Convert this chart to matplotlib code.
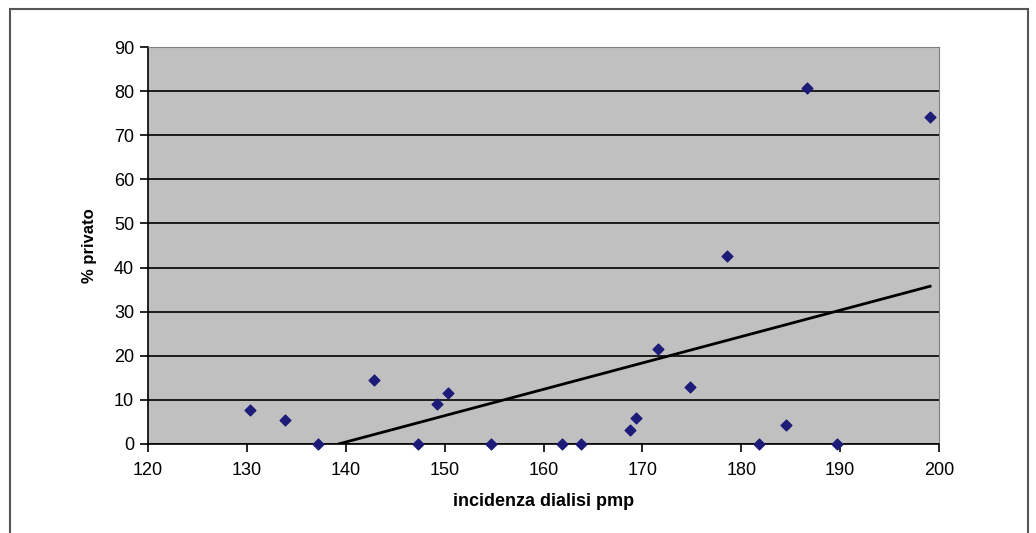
import matplotlib.pyplot as plt
from matplotlib.patches import Rectangle
import numpy as np

plt.rcParams['font.family'] = ['Liberation Sans', 'DejaVu Sans']

# incidenza dialisi pmp vs % privato
incidenza = [130.3, 133.9, 137.2, 142.9, 147.3, 149.2, 150.3, 154.7, 161.9, 163.8,
             168.7, 169.4, 171.6, 174.8, 178.6, 181.8, 184.5, 186.6, 189.7, 199.1]
privato = [7.8, 5.4, 0.0, 14.4, 0.0, 9.0, 11.6, 0.0, 0.0, 0.0,
           3.2, 5.9, 21.6, 12.9, 42.6, 0.0, 4.2, 80.8, 0.0, 74.1]
x_ticks = [120, 130, 140, 150, 160, 170, 180, 190, 200]
y_ticks = [0, 10, 20, 30, 40, 50, 60, 70, 80, 90]

fig = plt.figure(figsize=(10.36, 5.33), dpi=100)
# outer chart frame
fig.patches.append(Rectangle((10/1036, -0.02), 1018/1036, 1.02 - 9/533, transform=fig.transFigure,
                             fill=False, edgecolor='#555555', lw=1.5))
ax = fig.add_axes([148/1036, 89/533, 791/1036, 397/533])
ax.set_facecolor('#c0c0c0')

# linear trend (Excel style, clipped at axis)
k, b = np.polyfit(incidenza, privato, 1)
xt = np.array([min(incidenza), max(incidenza)])
ax.plot(xt, k*xt + b, color='black', lw=2, zorder=3)

ax.scatter(incidenza, privato, marker='D', s=30, color='#1c1c78', zorder=4, clip_on=False)

ax.set_xlim(120, 200)
ax.set_ylim(0, 90)
ax.set_xticks(x_ticks)
ax.set_yticks(y_ticks)
ax.grid(axis='y', color='black', lw=1.2)
ax.set_axisbelow(True)
for s in ['top', 'right']:
    ax.spines[s].set_color('#808080')
for s in ['left', 'bottom']:
    ax.spines[s].set_color('black')
    ax.spines[s].set_linewidth(1.2)
ax.tick_params(direction='out', length=6, width=1.2, labelsize=13, pad=4)
ax.tick_params(axis='x', pad=7)

ax.set_xlabel('incidenza dialisi pmp', fontsize=13, fontweight='bold', labelpad=10)
ax.set_ylabel('% privato', fontsize=12, fontweight='bold', labelpad=12)

fig.savefig('out.png', dpi=100)
